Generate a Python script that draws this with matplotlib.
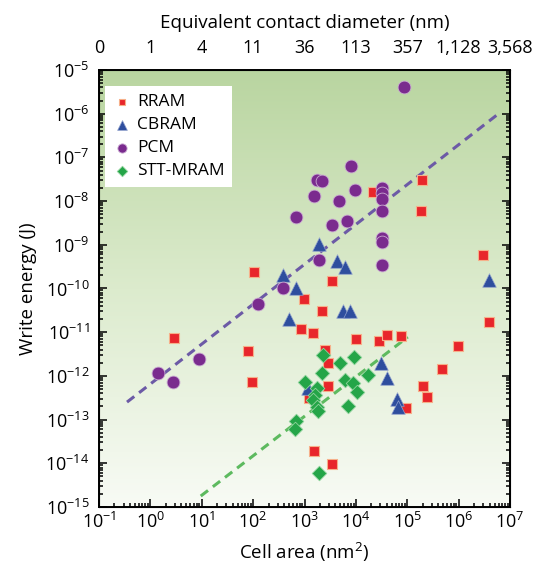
import numpy as np
import matplotlib
matplotlib.use("Agg")
import matplotlib.pyplot as plt
from matplotlib.colors import LinearSegmentedColormap
from matplotlib.ticker import FixedLocator, LogLocator, NullFormatter

plt.rcParams['font.family'] = ['Open Sans', 'DejaVu Sans']
plt.rcParams['mathtext.fontset'] = 'custom'
plt.rcParams['mathtext.rm'] = 'Open Sans'

# data: log10(cell area / nm^2), log10(write energy / J) ##########
rram_la = [4.33, 5.28, 5.26, 2.02, 2.99, 3.53, 3.34, 2.93, 3.16, 0.46, 1.90, 1.98,
           4.00, 4.45, 4.60, 4.88, 5.98, 6.47, 6.59, 3.40, 3.46, 3.46, 3.09, 4.97,
           3.18, 3.53, 5.67, 5.30, 5.38]
rram_le = [-7.79, -7.52, -8.23, -9.62, -10.24, -9.83, -10.51, -10.93, -11.02, -11.13, -11.43, -12.14,
           -11.16, -11.20, -11.06, -11.09, -11.32, -9.23, -10.77, -11.41, -11.70, -12.23, -12.51, -12.73,
           -13.72, -14.02, -11.84, -12.23, -12.48]

cbram_la = [3.28, 2.58, 2.83, 3.63, 3.79, 2.70, 3.75, 3.88, 6.59, 4.49, 4.60, 4.80, 4.82, 3.07]
cbram_le = [-8.98, -9.69, -9.99, -9.37, -9.51, -10.70, -10.51, -10.51, -9.81, -11.70, -12.05, -12.53,
            -12.71, -12.28]

pcm_la = [4.93, 3.90, 3.24, 3.34, 3.18, 3.67, 3.98, 4.51, 4.51, 4.51, 4.51, 2.83, 3.53, 3.82,
          4.51, 4.51, 4.51, 3.28, 2.58, 2.09, 0.15, 0.44, 0.95]
pcm_le = [-5.39, -7.20, -7.52, -7.54, -7.88, -8.00, -7.75, -7.70, -7.81, -7.95, -8.23, -8.36, -8.55,
          -8.46, -8.84, -8.94, -9.46, -9.35, -9.99, -10.35, -11.93, -12.14, -11.61]

stt_la = [3.36, 3.69, 3.96, 3.34, 3.01, 3.79, 3.94, 4.23, 4.02, 3.84, 3.24, 3.20, 3.16, 3.24,
          3.26, 2.83, 2.81, 3.28]
stt_le = [-11.52, -11.70, -11.57, -11.93, -12.14, -12.09, -12.16, -11.98, -12.37, -12.69, -12.28,
          -12.44, -12.55, -12.71, -12.80, -13.03, -13.22, -14.22]

# trend lines (log10 endpoints)
pcm_fit_la = [-0.455, 6.80]
pcm_fit_le = [-12.60, -5.98]
stt_fit_la = [0.98, 5.01]
stt_fit_le = [-14.75, -11.11]

diam_labels = ['0', '1', '4', '11', '36', '113', '357', '1,128', '3,568']
###################################################################

fig = plt.figure(figsize=(5.39, 5.75), dpi=100)
ax = fig.add_axes([0.1837, 0.1183, 0.7625, 0.76])

# green-to-white background
bg = LinearSegmentedColormap.from_list('bg', ['#f8fbf5', '#dcebcd', '#b9d5a0'])
ax.imshow(np.linspace(0, 1, 256).reshape(-1, 1), cmap=bg, origin='lower',
          extent=[0, 1, 0, 1], transform=ax.transAxes, aspect='auto', zorder=0)

p = lambda v: 10.0 ** np.asarray(v)

ax.plot(p(pcm_fit_la), p(pcm_fit_le), ls=(0, (3, 2)), color='#6c5aa6', lw=2.2, zorder=2)
ax.plot(p(stt_fit_la), p(stt_fit_le), ls=(0, (3, 2)), color='#5dba5f', lw=2.2, zorder=2)

ax.scatter(p(rram_la), p(rram_le), marker='s', s=48, color='#e8262b',
           edgecolors='#f6b08a', linewidths=0.8, zorder=3, label='RRAM')
ax.scatter(p(cbram_la), p(cbram_le), marker='^', s=95, color='#2e4e9e',
           edgecolors='#8fa0cc', linewidths=0.5, zorder=3, label='CBRAM')
ax.scatter(p(pcm_la), p(pcm_le), marker='o', s=85, color='#7a2b8e',
           edgecolors='#c9a9d2', linewidths=0.6, zorder=3, label='PCM')
ax.scatter(p(stt_la), p(stt_le), marker='D', s=55, color='#24a548',
           edgecolors='#8fd39c', linewidths=0.6, zorder=3, label='STT-MRAM')

ax.set_xscale('log')
ax.set_yscale('log')
ax.set_xlim(1e-1, 1e7)
ax.set_ylim(1e-15, 1e-5)
ax.set_autoscale_on(False)

ax.xaxis.set_major_locator(FixedLocator(10.0 ** np.arange(-1, 8)))
ax.yaxis.set_major_locator(FixedLocator(10.0 ** np.arange(-15, -4)))
ax.xaxis.set_minor_locator(LogLocator(base=10, subs=np.arange(2, 10), numticks=20))
ax.yaxis.set_minor_locator(LogLocator(base=10, subs=np.arange(2, 10), numticks=20))
ax.xaxis.set_minor_formatter(NullFormatter())
ax.yaxis.set_minor_formatter(NullFormatter())

ax.tick_params(which='both', direction='in', top=True, right=True, labelsize=13, width=1.1)
ax.tick_params(which='major', length=6)
ax.tick_params(which='minor', length=3)
ax.tick_params(axis='y', pad=7)
for sp in ax.spines.values():
    sp.set_linewidth(1.4)

ax.set_xlabel('Cell area (nm$^2$)', fontsize=13.5, labelpad=6)
ax.set_ylabel('Write energy (J)', fontsize=13.5, labelpad=6)

ax2 = ax.twiny()
ax2.set_xscale('log')
ax2.set_xlim(ax.get_xlim())
ax2.xaxis.set_major_locator(FixedLocator(10.0 ** np.arange(-1, 8)))
ax2.set_xticklabels(diam_labels)
ax2.xaxis.set_minor_locator(FixedLocator([]))
ax2.tick_params(length=0, labelsize=13, pad=9)
ax2.set_xlabel('Equivalent contact diameter (nm)', fontsize=13.5, labelpad=8)

leg = ax.legend(loc='upper left', bbox_to_anchor=(0.014, 0.963), fontsize=12.5,
                frameon=True, fancybox=False, framealpha=1, edgecolor='white',
                handletextpad=0.3, labelspacing=0.4, borderpad=0.45, handlelength=1.1,
                borderaxespad=0, markerscale=0.72)
leg.get_frame().set_linewidth(0)

fig.savefig('out.png', dpi=100)
